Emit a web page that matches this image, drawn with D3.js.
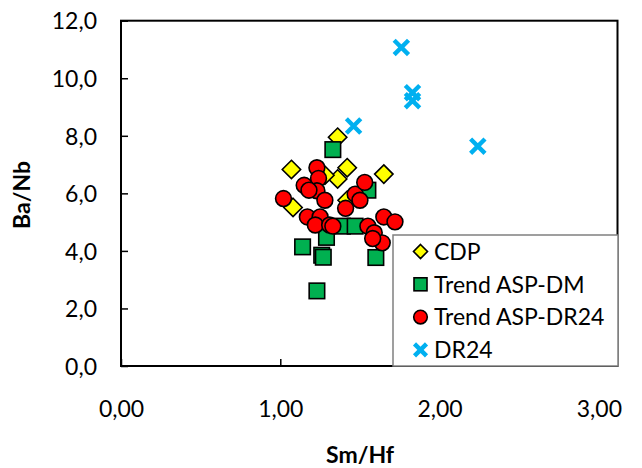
<!DOCTYPE html>
<html>
<head>
<meta charset="utf-8">
<script src="https://cdn.jsdelivr.net/npm/d3@7"></script>
<style>
  html, body { margin: 0; padding: 0; background: #fff; }
  svg { display: block; font-family: Lato, "Open Sans", sans-serif; }
</style>
</head>
<body>
<svg id="chart" width="642" height="468"></svg>
<script>
// Ba/Nb vs Sm/Hf for the four sample groups
const cdpX = [1.36, 1.07, 1.42, 1.36, 1.65, 1.08, 1.28, 1.42];
const cdpY = [7.95, 6.83, 6.89, 6.50, 6.67, 5.51, 6.63, 5.76];

const dmX = [1.33, 1.14, 1.26, 1.27, 1.23, 1.60, 1.29, 1.39, 1.47, 1.55];
const dmY = [7.52, 4.14, 3.85, 3.78, 2.61, 3.77, 4.47, 4.86, 4.86, 6.11];

const dr24TrendX = [1.02, 1.23, 1.24, 1.15, 1.23, 1.28, 1.18, 1.17, 1.25, 1.22, 1.31,
                    1.33, 1.41, 1.47, 1.50, 1.53, 1.55, 1.59, 1.65, 1.72, 1.64, 1.58];
const dr24TrendY = [5.82, 6.89, 6.52, 6.28, 6.09, 5.76, 6.11, 5.18, 5.18, 4.90, 4.90,
                    4.86, 5.48, 5.97, 5.76, 6.38, 4.86, 4.63, 5.18, 5.01, 4.28, 4.43];

const dr24X = [1.76, 1.83, 1.83, 1.46, 2.24];
const dr24Y = [11.07, 9.50, 9.22, 8.34, 7.64];

const xTicks = [0, 1, 2, 3];
const yTicks = [0, 2, 4, 6, 8, 10, 12];
const seriesNames = ["CDP", "Trend ASP-DM", "Trend ASP-DR24", "DR24"];

const svg = d3.select("#chart");
const plotLeft = 121, plotRight = 617.5, plotTop = 20.7, plotBottom = 366;
const fontSize = 23;

const x = d3.scaleLinear().domain([0, 3.117]).range([plotLeft, plotRight]);
const y = d3.scaleLinear().domain([0, 12]).range([plotBottom, plotTop]);

const fmtX = v => d3.format(".2f")(v).replace(".", ",");
const fmtY = v => d3.format(".1f")(v).replace(".", ",");

// axes with inward ticks
const xAxis = svg.append("g").attr("transform", `translate(0,${plotBottom})`)
  .call(d3.axisBottom(x).tickValues(xTicks).tickSizeInner(-7).tickSizeOuter(0).tickFormat(fmtX));
xAxis.select(".domain").remove();
xAxis.selectAll(".tick line").attr("stroke", "#000").attr("stroke-width", 1.5);
xAxis.selectAll(".tick text").attr("y", 51).attr("dy", 0)
  .attr("font-size", fontSize).attr("fill", "#000").attr("font-family", "Lato");

const yAxis = svg.append("g").attr("transform", `translate(${plotLeft},0)`)
  .call(d3.axisLeft(y).tickValues(yTicks).tickSizeInner(-7).tickSizeOuter(0).tickFormat(fmtY));
yAxis.select(".domain").remove();
yAxis.selectAll(".tick line").attr("stroke", "#000").attr("stroke-width", 1.5);
yAxis.selectAll(".tick text").attr("x", -24).attr("dy", "0.36em")
  .attr("font-size", fontSize).attr("fill", "#000").attr("font-family", "Lato");

// plot frame
svg.append("rect")
  .attr("x", plotLeft).attr("y", plotTop)
  .attr("width", plotRight - plotLeft).attr("height", plotBottom - plotTop)
  .attr("fill", "none").attr("stroke", "#000").attr("stroke-width", 2);

// axis titles
svg.append("text").attr("x", 360).attr("y", 463).attr("text-anchor", "middle")
  .attr("font-size", fontSize).attr("font-weight", "bold").text("Sm/Hf");
svg.append("text").attr("transform", "translate(30,195) rotate(-90)")
  .attr("text-anchor", "middle").attr("font-size", fontSize).attr("font-weight", "bold").text("Ba/Nb");

// marker drawing helpers
const diamond = (g, cx, cy, r) => g.append("path")
  .attr("d", `M${cx},${cy - r}L${cx + r},${cy}L${cx},${cy + r}L${cx - r},${cy}Z`)
  .attr("fill", "#FFFF00").attr("stroke", "#000").attr("stroke-width", 1.6);
const square = (g, cx, cy, s) => g.append("rect")
  .attr("x", cx - s / 2).attr("y", cy - s / 2).attr("width", s).attr("height", s)
  .attr("fill", "#00B050").attr("stroke", "#000").attr("stroke-width", 1.6);
const circle = (g, cx, cy, r) => g.append("circle")
  .attr("cx", cx).attr("cy", cy).attr("r", r)
  .attr("fill", "#FF0000").attr("stroke", "#000").attr("stroke-width", 1.6);
const cross = (g, cx, cy, h) => g.append("path")
  .attr("d", `M${cx - h},${cy - h}L${cx + h},${cy + h}M${cx - h},${cy + h}L${cx + h},${cy - h}`)
  .attr("stroke", "#00B0F0").attr("stroke-width", 4.4).attr("fill", "none");

const marks = svg.append("g");
cdpX.forEach((v, i) => diamond(marks, x(v), y(cdpY[i]), 9.2));
dmX.forEach((v, i) => square(marks, x(v), y(dmY[i]), 15.5));
dr24TrendX.forEach((v, i) => circle(marks, x(v), y(dr24TrendY[i]), 7.9));
dr24X.forEach((v, i) => cross(marks, x(v), y(dr24Y[i]), 7.2));

// legend
const lg = svg.append("g");
lg.append("rect").attr("x", 393).attr("y", 235).attr("width", 225).attr("height", 131)
  .attr("fill", "#fff").attr("stroke", "#808080").attr("stroke-width", 1.5);
const drawers = [
  (g, cx, cy) => diamond(g, cx, cy, 7),
  (g, cx, cy) => square(g, cx, cy, 13),
  (g, cx, cy) => circle(g, cx, cy, 6.8),
  (g, cx, cy) => cross(g, cx, cy, 6)
];
seriesNames.forEach((name, i) => {
  const cy = 251.5 + i * 32.8;
  drawers[i](lg, 420.5, cy);
  lg.append("text").attr("x", 434).attr("y", cy).attr("dy", "0.36em")
    .attr("font-size", fontSize).attr("fill", "#000").text(name);
});
</script>
</body>
</html>
